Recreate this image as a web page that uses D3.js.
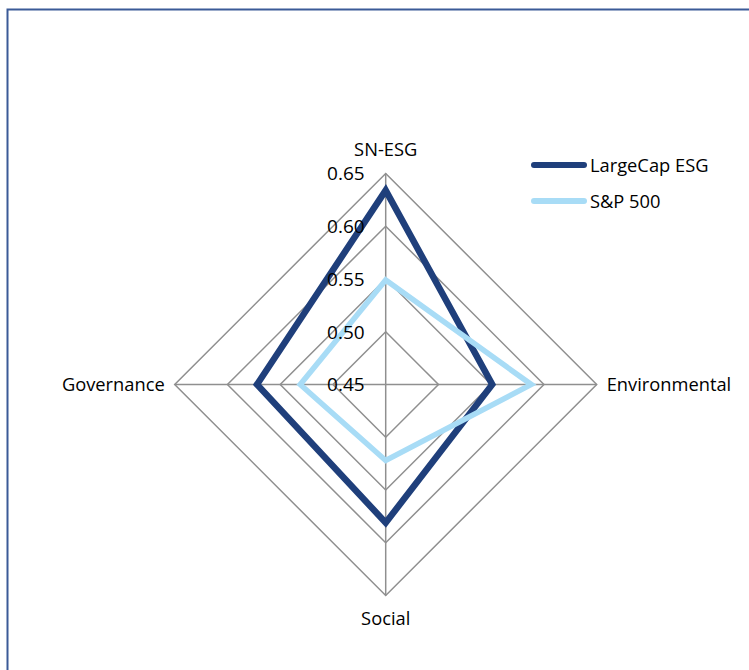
<!DOCTYPE html>
<html>
<head>
<meta charset="utf-8">
<script src="https://cdn.jsdelivr.net/npm/d3@7/dist/d3.min.js"></script>
<style>
  html, body { margin: 0; padding: 0; background: #fff; }
  svg { display: block; }
  text { font-family: "Open Sans", sans-serif; fill: #000; }
</style>
</head>
<body>
<script>
// ---- data ----
const axes = ["SN-ESG", "Environmental", "Social", "Governance"];
const seriesNames = ["LargeCap ESG", "S&P 500"];
const largeCapESG = [0.634, 0.551, 0.581, 0.572];
const sp500 = [0.549, 0.588, 0.522, 0.531];
const tickValues = [0.45, 0.50, 0.55, 0.60, 0.65];
const tickLabels = ["0.45", "0.50", "0.55", "0.60", "0.65"];
const colors = ["#1f3f7b", "#a8dcf6"];

const W = 749, H = 670;
const cx = 385.7, cy = 384.5, R = 211;

const svg = d3.select("body").append("svg").attr("width", W).attr("height", H);

// outer border
svg.append("rect").attr("x", 7.5).attr("y", 9.5).attr("width", W + 20).attr("height", H + 20)
  .attr("fill", "none").attr("stroke", "#3b5a97").attr("stroke-width", 2);

const r = d3.scaleLinear().domain([0.45, 0.65]).range([0, R]);
const angle = d3.scaleBand().domain(axes).range([0, 2 * Math.PI]).paddingInner(0).paddingOuter(0);
const ang = a => angle(a); // 0 = top, clockwise
const pt = (a, v) => [cx + r(v) * Math.sin(ang(a)), cy - r(v) * Math.cos(ang(a))];

const g = svg.append("g");

// grid rings
tickValues.slice(1).forEach(t => {
  g.append("path")
    .attr("d", d3.line()(axes.map(a => pt(a, t))) + "Z")
    .attr("fill", "none").attr("stroke", "#8f8f8f").attr("stroke-width", 1.5);
});
// spokes
axes.forEach(a => {
  const [x, y] = pt(a, 0.65);
  g.append("line").attr("x1", cx).attr("y1", cy).attr("x2", x).attr("y2", y)
    .attr("stroke", "#8f8f8f").attr("stroke-width", 1.5);
});

// series
const line = d3.line().curve(d3.curveLinearClosed);
[largeCapESG, sp500].forEach((vals, i) => {
  g.append("path")
    .attr("d", line(axes.map((a, j) => pt(a, vals[j]))))
    .attr("fill", "none").attr("stroke", colors[i])
    .attr("stroke-width", i === 0 ? 6.5 : 5.5).attr("stroke-linejoin", "miter");
});

// tick labels
tickValues.forEach((t, i) => {
  const [x, y] = pt(axes[0], t);
  svg.append("text").attr("x", x - 21).attr("y", y).attr("dy", "0.36em")
    .attr("text-anchor", "end").attr("font-size", 19).text(tickLabels[i]);
});

// axis labels
const labelPos = {
  "SN-ESG": { dx: 0, dy: -24, anchor: "middle" },
  "Environmental": { dx: 10, dy: 0, anchor: "start" },
  "Social": { dx: 0, dy: 23, anchor: "middle" },
  "Governance": { dx: -10, dy: 0, anchor: "end" }
};
axes.forEach(a => {
  const [x, y] = pt(a, 0.65);
  const p = labelPos[a];
  svg.append("text").attr("x", x + p.dx).attr("y", y + p.dy).attr("dy", "0.36em")
    .attr("text-anchor", p.anchor).attr("font-size", 18.3).text(a);
});

// legend
const legend = svg.append("g");
seriesNames.forEach((n, i) => {
  const y = 165 + i * 36;
  legend.append("line").attr("x1", 534).attr("x2", 584).attr("y1", y).attr("y2", y)
    .attr("stroke", colors[i]).attr("stroke-width", 6).attr("stroke-linecap", "round");
  legend.append("text").attr("x", 590).attr("y", y).attr("dy", "0.36em")
    .attr("font-size", 18.3).text(n);
});
</script>
</body>
</html>
